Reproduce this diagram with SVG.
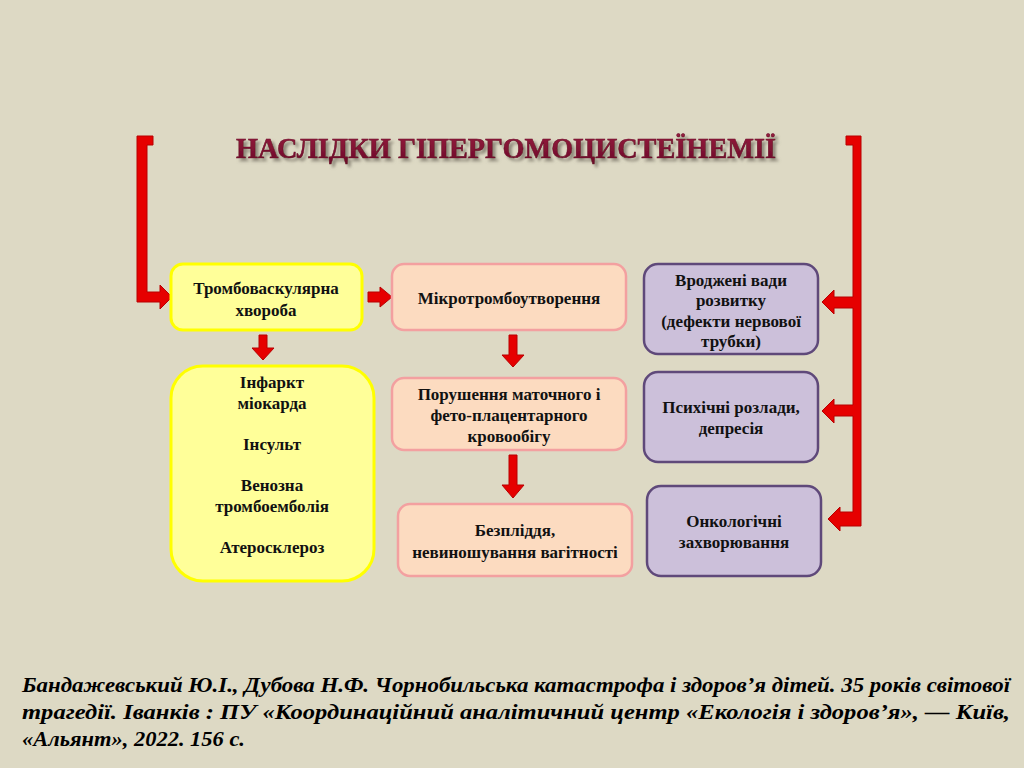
<svg xmlns="http://www.w3.org/2000/svg" width="1024" height="768" viewBox="0 0 1024 768">
<style>
.t{font-family:"Liberation Serif","Times New Roman",serif;font-weight:bold;font-size:17px;fill:#111;text-anchor:middle}
.y{fill:#FFFF99;stroke:#FFFF00;stroke-width:3}
.p{fill:#FCDBC0;stroke:#F3A0A0;stroke-width:2.5}
.v{fill:#CCC0DA;stroke:#5F497A;stroke-width:2.5}
.a{fill:#E60000;stroke:#B80000;stroke-width:1}
.c{font-family:"Liberation Serif","Times New Roman",serif;font-weight:bold;font-style:italic;font-size:20px;fill:#000}
.h{font-family:"Liberation Serif","Times New Roman",serif;font-weight:bold;font-size:30px;text-anchor:middle}
</style>
<defs>
<filter id="sh" x="-5%" y="-30%" width="110%" height="170%"><feDropShadow dx="3" dy="3" stdDeviation="1.5" flood-color="#7a7468" flood-opacity="0.8"/></filter>
<linearGradient id="tg" x1="0" y1="0" x2="0" y2="1"><stop offset="0" stop-color="#9A2040"/><stop offset="1" stop-color="#6A0828"/></linearGradient>
</defs>
<rect width="1024" height="768" fill="#DDD9C4"/>
<g id="title">
<text class="h" x="506" y="158" fill="url(#tg)" stroke="#6A0828" stroke-width="0.6" filter="url(#sh)" textLength="540" lengthAdjust="spacingAndGlyphs">НАСЛІДКИ ГІПЕРГОМОЦИСТЕЇНЕМІЇ</text>
</g>
<g id="connectors">
<path class="a" d="M137,136 H153 V145 H147 V292 H160 V285 L172,297 L160,309 V302 H137 Z"/>
<path class="a" d="M846,136 H861 V526 H840 V531 L828,519 L840,507 V512 H853 V416 H834 V423 L822,411 L834,399 V405 H853 V308 H834 V314 L822,302 L834,290 V297 H853 V145 H846 Z"/>
<path class="a" d="M368,292 H380 V287 L392,297 L380,307 V302 H368 Z"/>
<path class="a" d="M259,335 H267 V348 H274 L263,360 L252,348 H259 Z"/>
<path class="a" d="M509,335 H517 V355 H524 L513,367 L502,355 H509 Z"/>
<path class="a" d="M509,455 H517 V485 H524 L513,498 L502,485 H509 Z"/>
</g>
<g id="n1"><rect class="y" x="171" y="264" width="191" height="66" rx="12"/>
<text class="t" x="266" y="294">Тромбоваскулярна</text><text class="t" x="266" y="316">хвороба</text></g>
<g id="n2"><rect class="y" x="171" y="366" width="203" height="215" rx="32"/>
<text class="t" x="272" y="388">Інфаркт</text><text class="t" x="272" y="409">міокарда</text>
<text class="t" x="272" y="450">Інсульт</text>
<text class="t" x="272" y="491">Венозна</text><text class="t" x="272" y="512">тромбоемболія</text>
<text class="t" x="272" y="553">Атеросклероз</text></g>
<g id="n3"><rect class="p" x="392" y="264" width="234" height="66" rx="12"/>
<text class="t" x="509" y="304">Мікротромбоутворення</text></g>
<g id="n4"><rect class="p" x="392" y="378" width="234" height="72" rx="12"/>
<text class="t" x="509" y="400">Порушення маточного і</text><text class="t" x="509" y="421">фето-плацентарного</text><text class="t" x="509" y="442">кровообігу</text></g>
<g id="n5"><rect class="p" x="398" y="504" width="234" height="72" rx="12"/>
<text class="t" x="515" y="536">Безпліддя,</text><text class="t" x="515" y="558">невиношування вагітності</text></g>
<g id="n6"><rect class="v" x="644" y="264" width="174" height="90" rx="14"/>
<text class="t" x="731" y="286">Вроджені вади</text><text class="t" x="731" y="306">розвитку</text><text class="t" x="731" y="327">(дефекти нервової</text><text class="t" x="731" y="347">трубки)</text></g>
<g id="n7"><rect class="v" x="644" y="372" width="174" height="90" rx="14"/>
<text class="t" x="731" y="413">Психічні розлади,</text><text class="t" x="731" y="434">депресія</text></g>
<g id="n8"><rect class="v" x="647" y="486" width="174" height="90" rx="14"/>
<text class="t" x="734" y="527">Онкологічні</text><text class="t" x="734" y="548">захворювання</text></g>
<g id="citation">
<text class="c" x="22" y="692" textLength="988" lengthAdjust="spacingAndGlyphs">Бандажевський Ю.І., Дубова Н.Ф. Чорнобильська катастрофа і здоров’я дітей. 35 років світової</text>
<text class="c" x="22" y="719" textLength="988" lengthAdjust="spacingAndGlyphs">трагедії. Іванків : ПУ «Координаційний аналітичний центр «Екологія і здоров’я», — Київ,</text>
<text class="c" x="22" y="746" textLength="223" lengthAdjust="spacingAndGlyphs">«Альянт», 2022. 156 с.</text>
</g>
</svg>
